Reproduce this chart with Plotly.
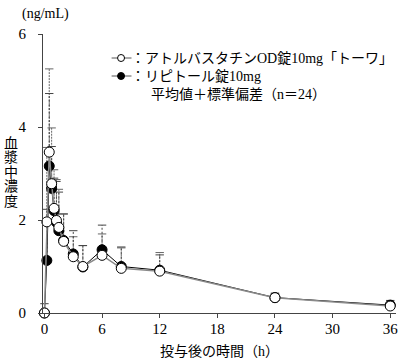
import plotly.graph_objects as go

# ---- data ----
times = [0, 0.25, 0.5, 0.75, 1, 1.25, 1.5, 2, 3, 4, 6, 8, 12, 24, 36]
towa_mean = [0, 1.96, 3.46, 2.78, 2.25, 1.99, 1.84, 1.54, 1.21, 1.00, 1.24, 0.96, 0.90, 0.33, 0.15]
towa_sd = [0, 1.60, 1.79, 1.20, 0.83, 0.88, 0.82, 0.59, 0.43, 0.45, 0.46, 0.44, 0.40, 0.10, 0.07]
lipitor_mean = [0, 1.13, 3.16, 2.68, 2.20, 1.95, 1.77, 1.56, 1.27, 0.99, 1.36, 1.00, 0.92, 0.33, 0.17]
lipitor_sd = [0.20, 1.10, 1.56, 0.90, 0.70, 0.88, 0.83, 0.57, 0.50, 0.46, 0.53, 0.42, 0.33, 0.09, 0.10]

x_ticks = [0, 6, 12, 18, 24, 30, 36]
y_ticks = [0, 2, 4, 6]

legend_towa = "：アトルバスタチンOD錠10mg「トーワ」"
legend_lipitor = "：リピトール錠10mg"
legend_note = "平均値＋標準偏差（n＝24）"
y_title_chars = list("血漿中濃度")
x_title = "投与後の時間（h）"
unit_label = "(ng/mL)"

FONT = "Liberation Serif, Noto Sans CJK JP, serif"

fig = go.Figure()


def err_traces(mean, sd, color, dash):
    xs, ys, cx, cy = [], [], [], []
    for t, m, s in zip(times, mean, sd):
        if s <= 0:
            continue
        xs += [t, t, None]
        ys += [m, m + s, None]
        cx.append(t)
        cy.append(m + s)
    fig.add_trace(go.Scatter(x=xs, y=ys, mode="lines",
                             line=dict(color=color, width=1, dash=dash),
                             showlegend=False, hoverinfo="skip", cliponaxis=False))
    fig.add_trace(go.Scatter(x=cx, y=cy, mode="markers",
                             marker=dict(symbol="line-ew", size=6,
                                         line=dict(color=color, width=1)),
                             showlegend=False, hoverinfo="skip", cliponaxis=False))


err_traces(towa_mean, towa_sd, "#666666", "2px,1px")
err_traces(lipitor_mean, lipitor_sd, "#444444", "2px,2px")

fig.add_trace(go.Scatter(x=times, y=lipitor_mean, mode="lines+markers",
                         line=dict(color="#000000", width=1),
                         marker=dict(symbol="circle", size=10, color="#000000",
                                     line=dict(color="#000000", width=1)),
                         showlegend=False, cliponaxis=False))
fig.add_trace(go.Scatter(x=times, y=towa_mean, mode="lines+markers",
                         line=dict(color="#8a8a8a", width=1.5),
                         marker=dict(symbol="circle", size=10, color="#ffffff",
                                     line=dict(color="#000000", width=1)),
                         showlegend=False, cliponaxis=False))

# plot area geometry (pixels)
L, R, T, B = 43, 2, 34, 48
W, H = 400 - L - R, 361 - T - B


def px(xp):
    return (xp - L) / W


def py(yp):
    return (361 - B - yp) / H


# legend symbols
shapes = []
for yp, fill in [(58, "#ffffff"), (76, "#000000")]:
    shapes.append(dict(type="line", xref="paper", yref="paper",
                       x0=px(112), x1=px(132), y0=py(yp), y1=py(yp),
                       line=dict(color="#555555", width=1)))
    shapes.append(dict(type="circle", xref="paper", yref="paper",
                       x0=px(118), x1=px(125), y0=py(yp - 3.5), y1=py(yp + 3.5),
                       fillcolor=fill, line=dict(color="#000000", width=1)))

annotations = [
    dict(text=legend_towa, x=px(129), y=py(58), xanchor="left", yanchor="middle"),
    dict(text=legend_lipitor, x=px(129), y=py(76), xanchor="left", yanchor="middle"),
    dict(text=legend_note, x=px(150), y=py(95), xanchor="left", yanchor="middle"),
    dict(text=unit_label, x=px(46), y=py(14), xanchor="center", yanchor="middle"),
    dict(text=x_title, x=px(220), y=py(352), xanchor="center", yanchor="middle"),
]
for i, ch in enumerate(y_title_chars):
    annotations.append(dict(text=ch, x=px(11), y=py(143 + i * 14.5),
                            xanchor="center", yanchor="middle"))
for a in annotations:
    a.update(xref="paper", yref="paper", showarrow=False,
             font=dict(family=FONT, size=14, color="#000000"))

fig.update_layout(
    width=400, height=361,
    margin=dict(l=L, r=R, t=T, b=B, pad=0),
    paper_bgcolor="#ffffff", plot_bgcolor="#ffffff",
    showlegend=False,
    shapes=shapes, annotations=annotations,
    font=dict(family=FONT, size=15, color="#000000"),
    xaxis=dict(range=[-0.15, 36.6], tickvals=x_ticks, ticks="outside", ticklen=4,
               tickcolor="#444444", showline=True, linecolor="#444444", linewidth=1,
               showgrid=False, zeroline=False, ticklabeloverflow="allow",
               ticklabelstandoff=-2,
               tickfont=dict(family=FONT, size=15)),
    yaxis=dict(range=[0, 6], tickvals=y_ticks, ticks="outside", ticklen=4,
               tickcolor="#444444", showline=True, linecolor="#444444", linewidth=1,
               showgrid=False, zeroline=False, ticklabelstandoff=9,
               ticklabeloverflow="allow",
               tickfont=dict(family=FONT, size=15)),
)

fig.write_html("out.html",
               config={"displayModeBar": False},
               post_script="document.body.style.margin='0px';"
                           "document.body.style.overflow='hidden';")
